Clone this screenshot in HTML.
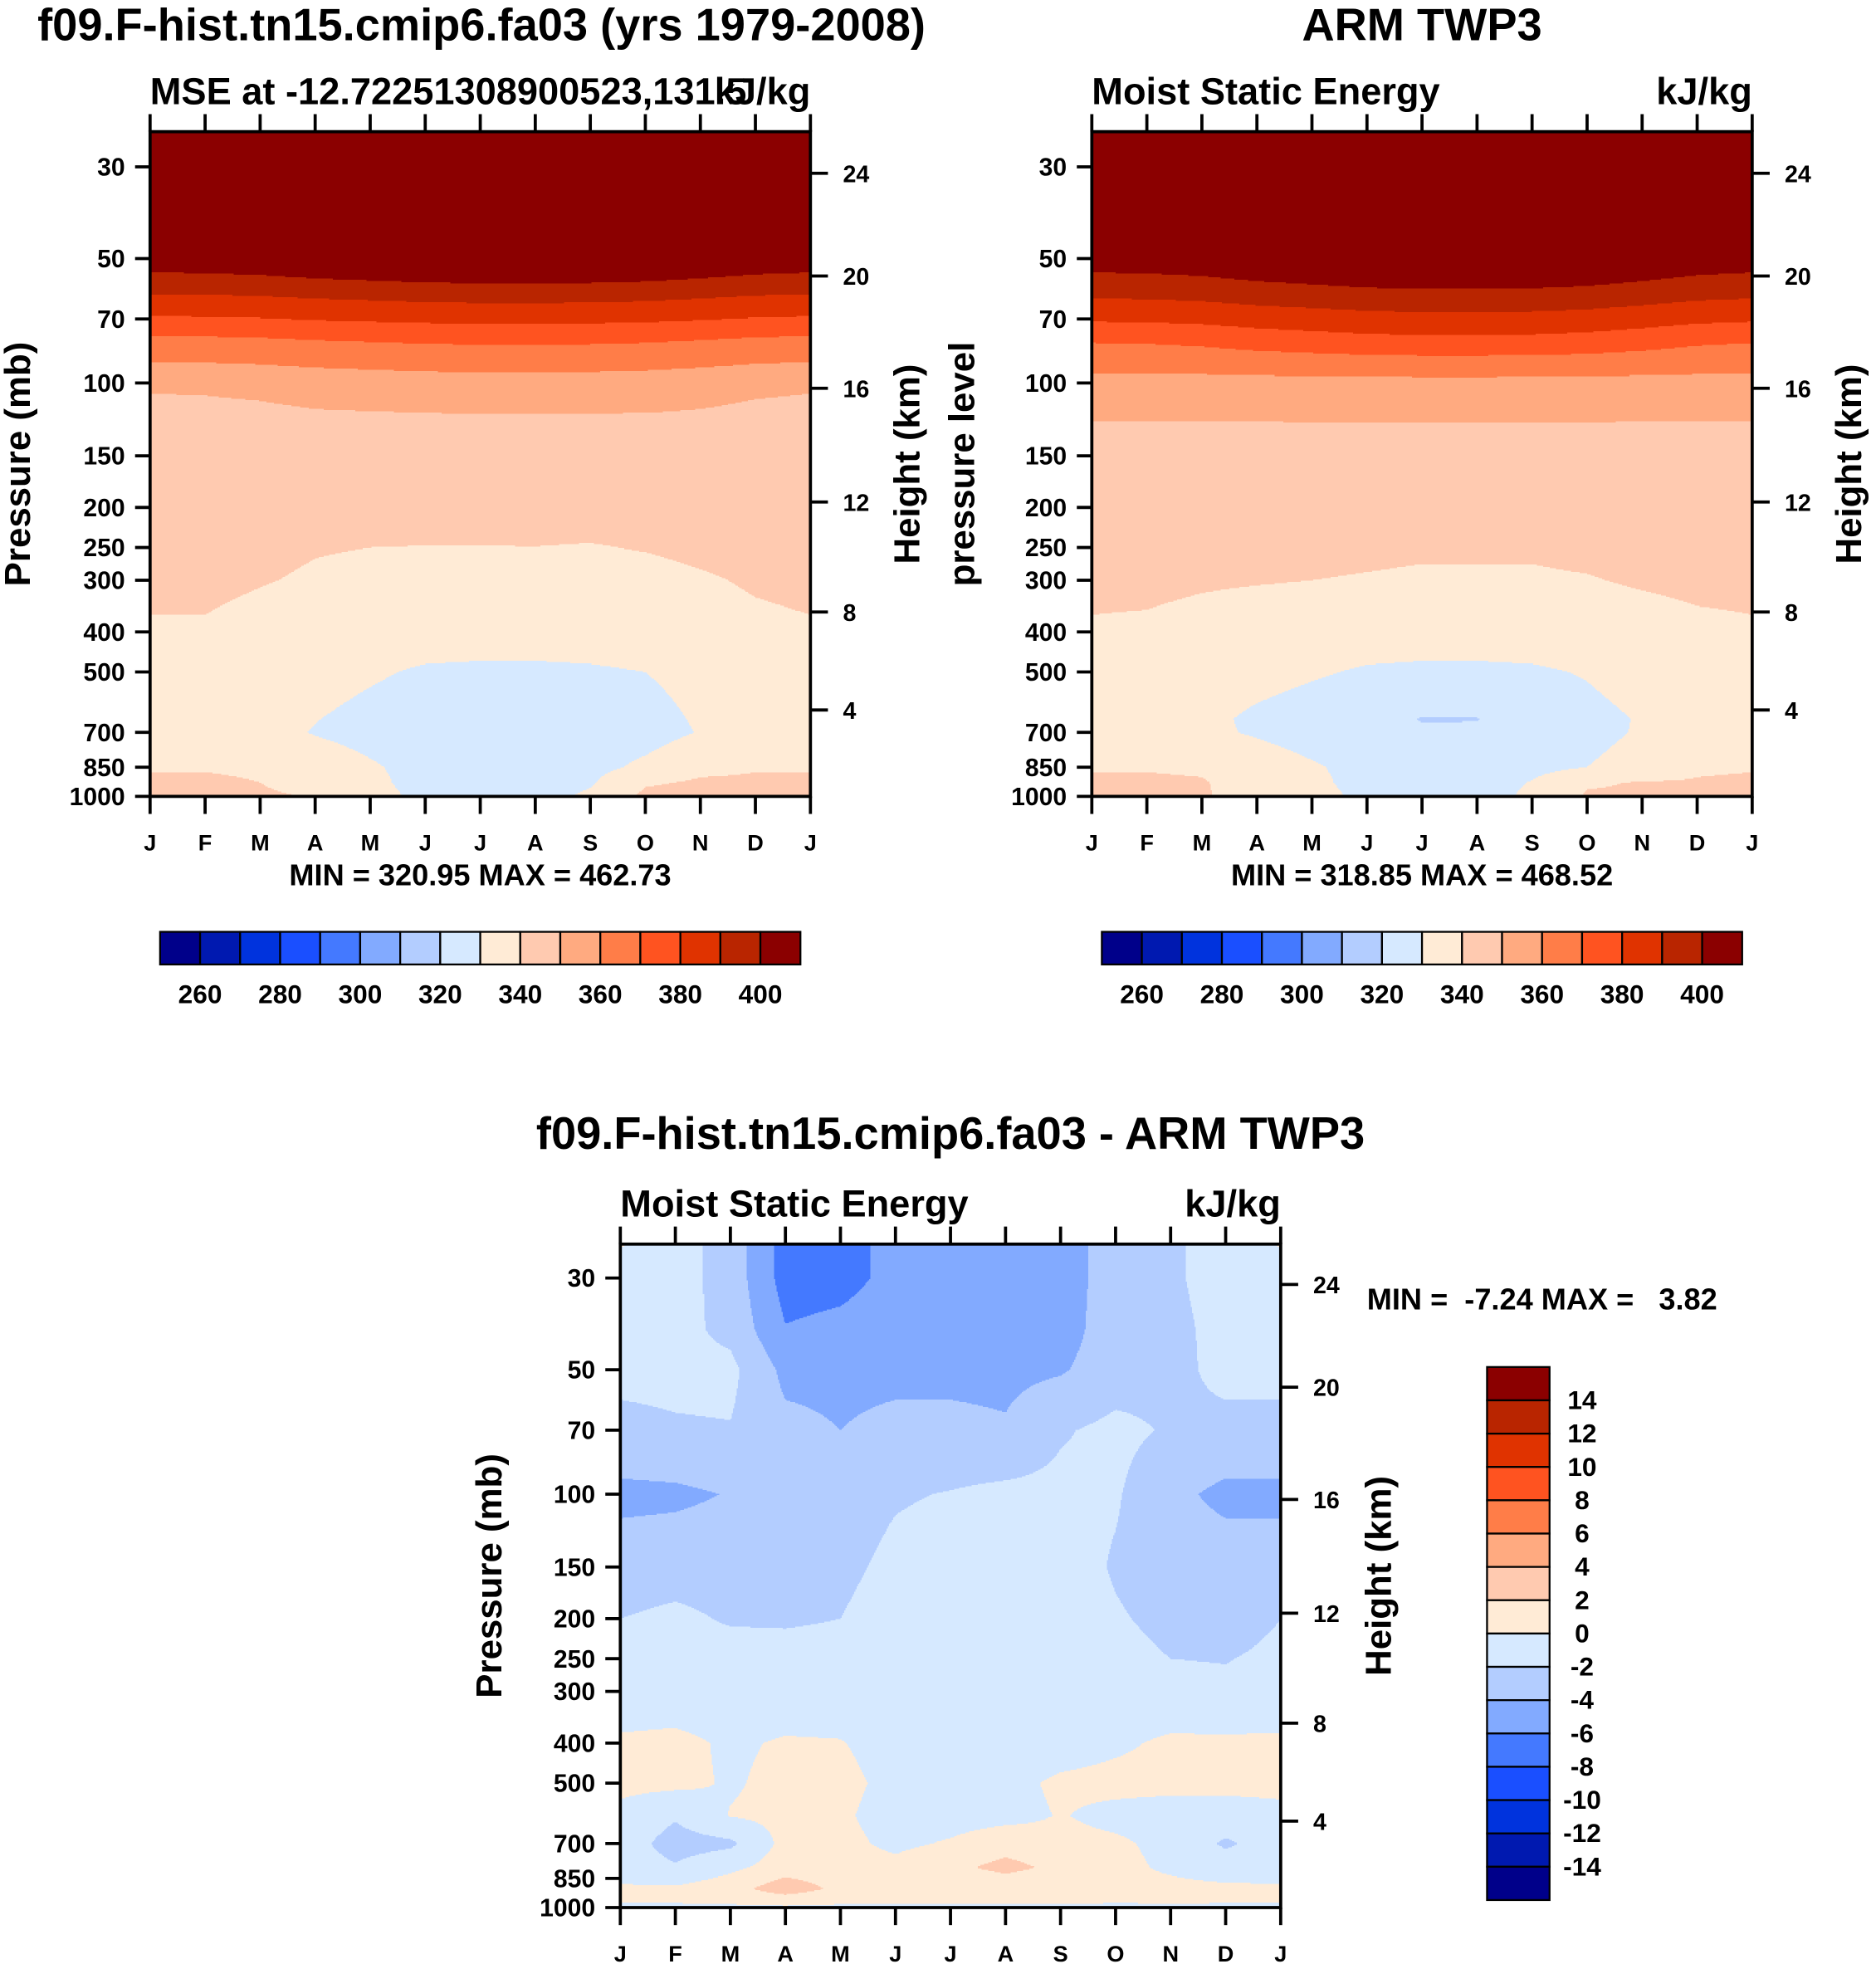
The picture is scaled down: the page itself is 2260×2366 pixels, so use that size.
<!DOCTYPE html>
<html><head><meta charset="utf-8">
<style>
html,body{margin:0;padding:0;background:#fff;}
svg{display:block;font-family:"Liberation Sans",Arial,sans-serif;font-weight:bold;}
text{white-space:pre;}
</style></head>
<body>
<svg id="root" xmlns="http://www.w3.org/2000/svg" width="2260" height="2366" viewBox="0 0 1500 1566" preserveAspectRatio="none">
<g id="fields"></g>
<g id="axes"></g>
</svg>
<script>
// ---------- DATA ----------
const months = ["J","F","M","A","M","J","J","A","S","O","N","D","J"];
const pressureTicks = [30,50,70,100,150,200,250,300,400,500,700,850,1000];
const heightTicks = [24,20,16,12,8,4];
const heightPressure = [31.1,55.1,103,194,358,618]; // pressure where height tick sits
const mseLevels = [260,270,280,290,300,310,320,330,340,350,360,370,380,390,400];
const mseLabels = ["260","280","300","320","340","360","380","400"];
const diffLevels = [-14,-12,-10,-8,-6,-4,-2,0,2,4,6,8,10,12,14];
const diffLabels = ["14","12","10","8","6","4","2","0","-2","-4","-6","-8","-10","-12","-14"];
const palette = ["#00008a","#0019b0","#0033dd","#1a4fff","#4479ff","#82aaff","#b3cdff","#d6e9ff","#ffebd6","#ffcab0","#ffaa80","#ff7d48","#ff5320","#e03300","#b92500","#8b0000"];

const modelLevels = [1000,925,850,700,500,400,300,250,200,150,106,89,77,69,61,54,50,30,25];
const modelMSE = [
 [343,343,341.5,339.5,333,328,327,327,331.5,342,343,343,343],
 [341,341,340,336,332,327,326,326,329,339,341,341,341],
 [339.5,339.5,339,335,331,327,325.5,325.5,327,332,338,339.5,339.5],
 [336,335,333,329.5,327,325,324,324,325,326,330.5,335,336],
 [337,336,335,333,331,329,328.5,328.5,329,330,333,335,337],
 [339,339,337,335,334.5,334,334,334,334,334.5,336,338,339],
 [342,342,340.5,339,338,337,337,337,337,337,339,341,342],
 [343,343,342,340.5,340,339.8,339.8,339.9,339.5,340.5,342,343,343],
 [344,344,344,344,344,344,344,344,344,344,344,344,344],
 [347,347,347,347,346.5,346,346,346,346,346.5,347,347,347],
 [350,350.1,350.4,351,351.4,351.8,352,352,351.9,351.6,351,350.3,350],
 [360,360.2,360.8,362,362.8,363.6,364,364,363.8,363.2,362,360.6,360],
 [370,370.15,370.6,371.5,372.1,372.7,373,373,372.85,372.4,371.5,370.45,370],
 [380,380.2,380.8,382,382.8,383.6,384,384,383.8,383.2,382,380.6,380],
 [390,390.2,390.8,392,392.8,393.6,394,394,393.8,393.2,392,390.6,390],
 [400,400.3,401.2,403,404.2,405.4,406,406,405.7,404.8,403,400.9,400],
 [412,412,412,412,412,412,412,412,412,412,412,412,412],
 [450,450,450,450,450,450,450,450,450,450,450,450,450],
 [460,460,460,460,460,460,460,460,460,460,460,460,460]
];
const obsLevels = [1000,925,850,700,650,500,400,300,250,200,150,124,95,80,71,62.5,54,50,30,25];
const obsMSE = [
 [341,341,340.5,338,333,328,327,327,331.5,341,341,341,341],
 [341,341,340.5,337,332,327,326,326,330.5,339,340.5,340.5,341],
 [339.5,339.5,339,335,331,327,326,326,327,330,334,339,339.5],
 [335,334,332,329,326,324,321,321,324,327,331,334,335],
 [334,333,332,328.5,326,324,319.6,319.8,325,328,330.5,333,334],
 [336,335.5,335,333,331,329,328.5,328.5,329,330.5,333,335,336],
 [339,338.5,337,335.5,335,334.5,334,334,334,334.5,336,338,339],
 [342,342,341,340.5,340,339.5,339,339,339,339.5,341,342,342],
 [343,343,342.5,342,342,341.5,341,341,341,342,343,343,343],
 [345,345,345,345,345,345,345,345,345,345,345,345,345],
 [348,348,348,348,348,348,348,348,348,348,348,348,348],
 [350,350,350,350,350.05,350.1,350.1,350.1,350.1,350.05,350,350,350],
 [360,360,360.1,360.35,360.5,360.6,360.7,360.7,360.65,360.55,360.35,360.1,360],
 [370,370.3,371.3,373.3,374.6,375.9,376.5,376.5,376.2,375.2,373.3,371,370],
 [380,380.3,381.2,383,384.2,385.4,386,386,385.7,384.8,383,380.9,380],
 [390,390.3,391.2,393,394.2,395.4,396,396,395.7,394.8,393,390.9,390],
 [400,400.35,401.4,403.5,404.9,406.3,407,407,406.65,405.6,403.5,401.05,400],
 [412,412,412,412,412,412,412,412,412,412,412,412,412],
 [450,450,450,450,450,450,450,450,450,450,450,450,450],
 [460,460,460,460,460,460,460,460,460,460,460,460,460]
];
const diffPLevels = [1000,950,900,800,700,600,500,400,300,250,200,150,100,70,50,40,30,25];
const diffMSE = [
 [-0.3,-0.3,-0.3,-0.3,-0.3,-0.3,-0.3,-0.3,-0.3,-0.5,-0.3,-0.3,-0.3],
 [0.3,0.3,0.5,1.2,0.5,0.5,0.5,0.5,0.5,0.5,0.4,0.3,0.3],
 [0.3,0.3,1.2,3.2,1.5,0.5,0.5,0.6,0.5,0.5,0.5,0.4,0.3],
 [-1,-1.8,-0.5,1,0.8,0.5,1.5,2.6,1.5,0.5,-0.3,-1,-1],
 [-1,-2.8,-2.4,0.6,0.5,-0.4,0.2,1.2,0.5,0.3,-0.5,-2.3,-1],
 [-0.5,-1.8,0.1,0.5,0.3,-0.8,-0.8,-0.6,0.1,-0.5,-0.8,-0.8,-0.5],
 [0.5,0.5,-0.2,0.5,0.5,-0.5,-0.5,-0.5,0.3,0.5,0.5,0.5,0.5],
 [0.3,0.5,-0.3,0.2,0.1,-0.8,-1,-1,-0.8,-0.3,0.3,0.3,0.3],
 [-1.2,-1.2,-1.2,-1.2,-1.2,-1.2,-1.2,-1.2,-1.2,-1.2,-1.3,-1.5,-1.2],
 [-1.5,-1.2,-1.2,-1.4,-1.4,-1.2,-1.2,-1.2,-1.2,-1.4,-2,-2.1,-1.5],
 [-2,-1.6,-2.2,-2.2,-2,-1,-1,-1,-1,-1.8,-2.5,-3,-2],
 [-3,-2.8,-2.8,-2.6,-2.5,-1.5,-1,-1,-1,-2.2,-3,-3,-3],
 [-4.5,-4.4,-3.9,-3,-3,-2.2,-1.9,-1.5,-1.5,-1.8,-3.5,-4.5,-4.5],
 [-2.5,-2.2,-2.1,-3.5,-4,-3.5,-3.5,-3.8,-2.2,-1.5,-2.2,-2.5,-2.5],
 [-1.5,-1.5,-1.5,-4.5,-4.5,-4.5,-4.5,-4.5,-4.2,-3,-2.5,-1.5,-1.5],
 [-1.3,-1.4,-2.5,-5.9,-5.5,-5,-5,-5,-4.8,-3,-2.5,-1.4,-1.3],
 [-1,-1.2,-2.8,-6.8,-6.6,-5.5,-5,-5,-5,-3,-2.3,-1.2,-1],
 [0.1,-1.2,-2.8,-6.8,-6.6,-5.5,-5,-5,-5,-3,-2.3,-1.2,0.1]
];

// ---------- HELPERS ----------
const NS="http://www.w3.org/2000/svg";
function mk(tag,attrs,parent,text){const e=document.createElementNS(NS,tag);for(const k in attrs)e.setAttribute(k,attrs[k]);if(text!==undefined)e.textContent=text;parent.appendChild(e);return e;}
const fieldsG=document.getElementById('fields');
const axesG=document.getElementById('axes');
const K=143.15;
function interp(levels,grid,m,p){
  let i0=Math.floor(m);if(i0>=12)i0=11;if(i0<0)i0=0;const fx=m-i0;
  const lp=Math.log(p);let j=0;
  while(j<levels.length-2 && Math.log(levels[j+1])>lp) j++;
  let fy=(Math.log(levels[j])-lp)/(Math.log(levels[j])-Math.log(levels[j+1]));
  fy=Math.max(0,Math.min(1,fy));
  const a=grid[j][i0]*(1-fx)+grid[j][i0+1]*fx;
  const b=grid[j+1][i0]*(1-fx)+grid[j+1][i0+1]*fx;
  return a*(1-fy)+b*fy;
}
function bin(v,levels){let k=0;while(k<levels.length&&v>=levels[k])k++;return k;}

function panel(o){
  const L=o.left,R=o.left+528,T=o.top,B=o.bottom;
  const xOf=m=>L+m*44;
  const yOf=p=>B-K*Math.log(1000/p);
  const fg=mk('g',{'shape-rendering':'crispEdges'},fieldsG);
  
  
  for(let y=T;y<B;y+=1){
    const p=1000*Math.exp(-(B-(y+0.5))/K);
    let runStart=L,runCol=-1;
    for(let x=L;x<=R;x+=1){
      let c=-2;
      if(x<R){const m=(x+0.5-L)/44;c=bin(interp(o.levels,o.grid,m,p),o.cl);}
      if(c!==runCol){
        if(runCol>=0)mk('rect',{x:runStart,y:y,width:x-runStart,height:1.05,fill:palette[runCol]},fg);
        runStart=x;runCol=c;
      }
    }
  }
  const ag=mk('g',{},axesG);
  
  
  mk('rect',{x:L,y:T,width:528,height:B-T,fill:'none',stroke:'#000','stroke-width':2.5},ag);
  months.forEach((mn,i)=>{
    const x=xOf(i);
    mk('line',{x1:x,y1:B,x2:x,y2:B+14,stroke:'#000','stroke-width':2.5},ag);
    mk('line',{x1:x,y1:T,x2:x,y2:T-14,stroke:'#000','stroke-width':2.5},ag);
    const t=mk('text',{x:x,y:B+43,'text-anchor':'middle','font-size':18},ag,mn);
    
  });
  pressureTicks.forEach(p=>{
    const y=yOf(p);
    mk('line',{x1:L-12,y1:y,x2:L,y2:y,stroke:'#000','stroke-width':2.5},ag);
    const t=mk('text',{x:L-20,y:y+7,'text-anchor':'end','font-size':20},ag,String(p));
    
  });
  heightTicks.forEach((h,i)=>{
    const y=yOf(heightPressure[i]);
    mk('line',{x1:R,y1:y,x2:R+14,y2:y,stroke:'#000','stroke-width':2.5},ag);
    const t=mk('text',{x:R+26,y:y+7,'text-anchor':'start','font-size':19},ag,String(h));
    
  });
  let t=mk('text',{x:L,y:T-22,'font-size':30},ag,o.sub);
  
  t=mk('text',{x:R,y:T-22,'text-anchor':'end','font-size':30},ag,'kJ/kg');
  
  t=mk('text',{x:o.ylx,y:(T+B)/2,'text-anchor':'middle','font-size':29,transform:`rotate(-90 ${o.ylx} ${(T+B)/2})`},ag,o.ylabel);
  
  t=mk('text',{x:o.hx,y:(T+B)/2,'text-anchor':'middle','font-size':29,transform:`rotate(-90 ${o.hx} ${(T+B)/2})`},ag,'Height (km)');
  
}

panel({name:'model',left:120,top:105,bottom:635,levels:modelLevels,grid:modelMSE,cl:mseLevels,sub:'MSE at -12.72251308900523,131.5',ylabel:'Pressure (mb)',ylx:24,hx:735});
panel({name:'obs',left:873,top:105,bottom:635,levels:obsLevels,grid:obsMSE,cl:mseLevels,sub:'Moist Static Energy',ylabel:'pressure level',ylx:779,hx:1488});
panel({name:'diff',left:496,top:992,bottom:1521,levels:diffPLevels,grid:diffMSE,cl:diffLevels,sub:'Moist Static Energy',ylabel:'Pressure (mb)',ylx:401,hx:1112});

function titleText(x,y,s,name){const t=mk('text',{x:x,y:y,'text-anchor':'middle','font-size':36},axesG,s);}
titleText(385,32,'f09.F-hist.tn15.cmip6.fa03 (yrs 1979-2008)','model-title');
titleText(1137,32,'ARM TWP3','obs-title');
titleText(760,916,'f09.F-hist.tn15.cmip6.fa03 - ARM TWP3','diff-title');
function small(x,y,s,name,anchor){const t=mk('text',{x:x,y:y,'text-anchor':anchor||'middle','font-size':24},axesG,s);}
small(384,706,'MIN = 320.95 MAX = 462.73','model-minmax');
small(1137,706,'MIN = 318.85 MAX = 468.52','obs-minmax');
small(1093,1044,'MIN =  -7.24 MAX =   3.82','diff-minmax','start');

function hbar(x0,y0,name){
  const g=mk('g',{},axesG);
  palette.forEach((c,i)=>{mk('rect',{x:x0+i*32,y:y0,width:32,height:26,fill:c,stroke:'#000','stroke-width':1.5},g);});
  mseLabels.forEach((s,i)=>{const t=mk('text',{x:x0+32+i*64,y:y0+57,'text-anchor':'middle','font-size':21},g,s);});
}
hbar(128,743,'model-colorbar');
hbar(881,743,'obs-colorbar');
(function(){
  const g=mk('g',{},axesG);
  const h=425/16;
  palette.slice().reverse().forEach((c,i)=>{mk('rect',{x:1189,y:1090+i*h,width:50,height:h,fill:c,stroke:'#000','stroke-width':1.5},g);});
  diffLabels.forEach((s,i)=>{const t=mk('text',{x:1265,y:1090+(i+1)*h+7,'text-anchor':'middle','font-size':21},g,s);});
})();
</script>
</body></html>
